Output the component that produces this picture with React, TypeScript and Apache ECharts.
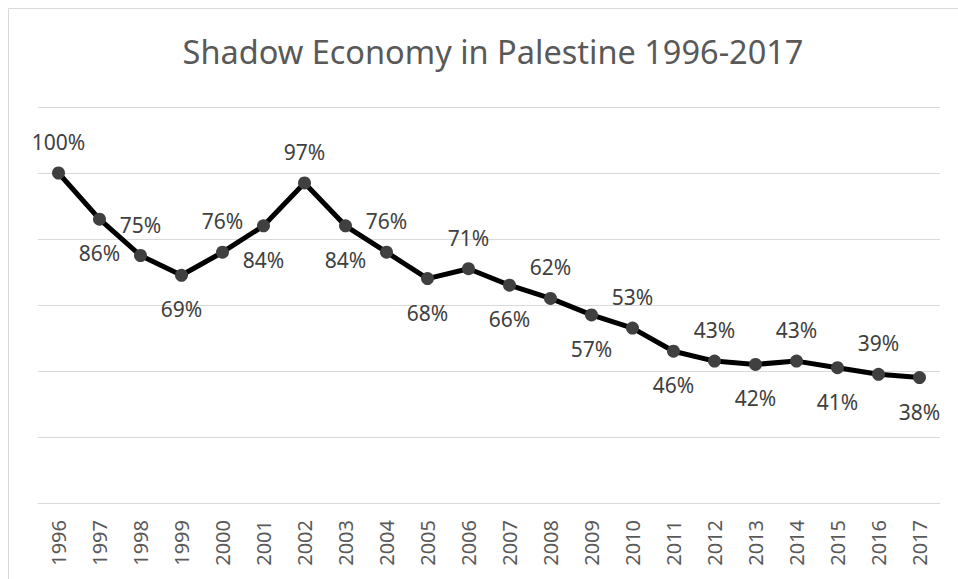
import React, { useEffect, useRef } from "react";
import * as echarts from "echarts";

const years = ["1996","1997","1998","1999","2000","2001","2002","2003","2004","2005","2006","2007","2008","2009","2010","2011","2012","2013","2014","2015","2016","2017"];
const values = [100, 86, 75, 69, 76, 84, 97, 84, 76, 68, 71, 66, 62, 57, 53, 46, 43, 42, 43, 41, 39, 38];
const labelSides = ["top","bottom","top","bottom","top","bottom","top","bottom","top","bottom","top","bottom","top","bottom","top","bottom","top","bottom","top","bottom","top","bottom"];
const titleText = "Shadow Economy in Palestine 1996-2017";

export default function App() {
  const ref = useRef<HTMLDivElement>(null);
  useEffect(() => {
    if (!ref.current) return;
    const chart = echarts.init(ref.current, null, { renderer: "svg" });
    const font = "Noto Sans";
    chart.setOption({
      animation: false,
      backgroundColor: "#ffffff",
      title: {
        text: titleText,
        left: 488,
        top: 30,
        textAlign: "center",
        textStyle: { fontFamily: font, fontSize: 32.5, fontWeight: "normal", color: "#595959" },
      },
      graphic: [
        {
          type: "rect",
          shape: { x: 8.5, y: 8.5, width: 980, height: 600 },
          style: { fill: "none", stroke: "#d9d9d9", lineWidth: 1 },
          silent: true,
        },
      ],
      grid: { left: 38, right: 18, top: 107, bottom: 76, containLabel: false },
      xAxis: {
        type: "category",
        data: years,
        boundaryGap: true,
        axisLine: { show: true, lineStyle: { color: "#d9d9d9", width: 1 } },
        axisTick: { show: false },
        axisLabel: {
          rotate: 90,
          margin: 17,
          interval: 0,
          fontFamily: font,
          fontSize: 20,
          color: "#595959",
        },
      },
      yAxis: {
        type: "value",
        min: 0,
        max: 120,
        interval: 20,
        axisLine: { show: false },
        axisTick: { show: false },
        axisLabel: { show: false },
        splitLine: { show: true, lineStyle: { color: "#d9d9d9", width: 1 } },
      },
      series: [
        {
          type: "line",
          data: values.map((v, i) => ({
            value: v,
            label: { position: labelSides[i], distance: labelSides[i] === "top" ? 14 : 17 },
          })),
          symbol: "circle",
          symbolSize: 13,
          itemStyle: { color: "#404040" },
          lineStyle: { color: "#000000", width: 5 },
          label: {
            show: true,
            formatter: (p: any) => p.value + "%",
            fontFamily: font,
            fontSize: 21,
            color: "#404040",
          },
        },
      ],
    });
    return () => chart.dispose();
  }, []);
  return (
    <div
      ref={ref}
      style={{ position: "fixed", left: 0, top: 0, width: 958, height: 579 }}
    />
  );
}
